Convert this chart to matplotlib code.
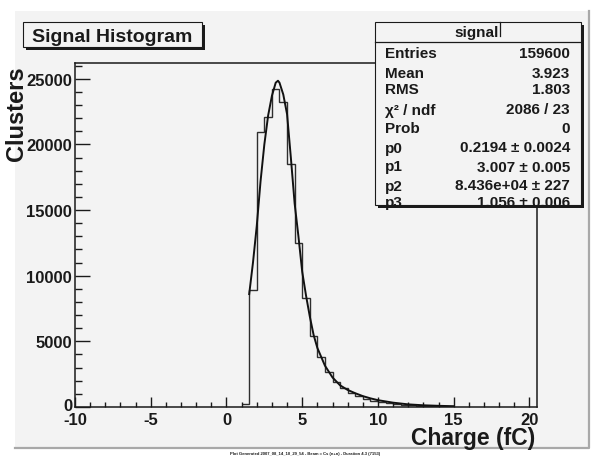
import numpy as np
import matplotlib
matplotlib.use("Agg")
import matplotlib.pyplot as plt
from matplotlib.patches import Rectangle
from matplotlib.lines import Line2D

# ---------------- data ----------------
bin_start = 1.0
bin_width = 0.5
counts = [250, 8900, 20950, 22050, 24200, 23200, 18500, 12500, 8300, 5430,
          3780, 2700, 1900, 1450, 1050, 820, 610, 470, 360, 290,
          220, 170, 140, 110, 90, 70, 60, 45]

fit_x = [1.5, 1.75, 2.0, 2.25, 2.5, 2.75, 3.0, 3.25, 3.4, 3.5, 3.75, 4.0,
         4.25, 4.5, 4.75, 5.0, 5.25, 5.5, 5.75, 6.0, 6.5, 7.0, 7.5, 8.0,
         8.5, 9.0, 9.5, 10.0, 11.0, 12.0, 13.0, 14.0, 15.0]
fit_y = [8600, 11000, 13800, 17200, 20000, 22200, 23700, 24700, 24850, 24700,
         23800, 22300, 19000, 15500, 13000, 10300, 8500, 6900, 5500, 4500,
         3150, 2250, 1650, 1300, 1050, 830, 660, 520, 330, 200, 130, 90, 60]

xticks = [-10, -5, 0, 5, 10, 15, 20]
yticks = [0, 5000, 10000, 15000, 20000, 25000]

stats_title = "signal"
stats_names = ["Entries", "Mean", "RMS", "χ² / ndf", "Prob", "p0", "p1", "p2", "p3"]
stats_values = ["159600", "3.923", "1.803", "2086 / 23", "0",
                "0.2194 ± 0.0024", "3.007 ± 0.005", "8.436e+04 ± 227", "1.056 ± 0.006"]

title = "Signal Histogram"
xlabel = "Charge (fC)"
ylabel = "Clusters"
footer = "Plot Generated 2007_08_14_10_29_54 - Beam = Cs (n+n) - Duration 4.3 (7153)"

# ---------------- figure ----------------
W, H = 595, 460
FONT = "Liberation Sans"
fig = plt.figure(figsize=(W / 100, H / 100), dpi=100, facecolor="white")
BG = "#f3f3f3"
INK = "#1a1a1a"


def fx(px):
    return px / W


def fy(py):
    return 1 - py / H


def prect(x0, y0, x1, y1, **kw):
    r = Rectangle((fx(x0), fy(y1)), fx(x1) - fx(x0), fy(y0) - fy(y1),
                  transform=fig.transFigure, **kw)
    fig.add_artist(r)
    return r


def pline(xs, ys, **kw):
    l = Line2D([fx(v) for v in xs], [fy(v) for v in ys], transform=fig.transFigure, **kw)
    fig.add_artist(l)
    return l


# canvas
prect(15, 12, 590, 450, facecolor=BG, edgecolor="none", zorder=0)
pline([15, 589, 589], [449, 449, 12], color="#a8a8a8", lw=1.6, zorder=0.5)

# axes
L, R, T, B = 75, 537, 64, 408
ax = fig.add_axes([fx(L), fy(B), fx(R) - fx(L), fy(T) - fy(B)])
ax.set_facecolor(BG)
ax.set_xlim(-10, 20.5)
ax.set_ylim(0, 26200)

edges = bin_start + bin_width * np.arange(len(counts) + 1)
ax.stairs(counts, edges, color="#2e2e2e", lw=1.0, baseline=None)
ax.plot(fit_x, fit_y, color="#111111", lw=1.4)

for s in ["top", "right", "bottom", "left"]:
    ax.spines[s].set_color(INK)
    ax.spines[s].set_linewidth(1.1)

ax.set_xticks(xticks)
ax.set_yticks(yticks)
ax.set_xticks(np.arange(-10, 21, 1), minor=True)
ax.set_yticks(np.arange(0, 26001, 1000), minor=True)
ax.tick_params(axis="x", which="major", direction="in", length=7.5, width=1.0, color=INK, pad=3.5)
ax.tick_params(axis="x", which="minor", direction="in", length=3.8, width=1.0, color=INK)
ax.tick_params(axis="y", which="major", direction="in", length=10.5, width=1.0, color=INK, pad=2)
ax.tick_params(axis="y", which="minor", direction="in", length=5.3, width=1.0, color=INK)
ax.set_xticklabels([str(v) for v in xticks], fontfamily=FONT, fontweight="bold", fontsize=12, color=INK)
# y "0" label is placed by hand just above the "-10" label, as in the reference
ax.set_yticklabels([""] + [str(v) for v in yticks[1:]], fontfamily=FONT, fontweight="bold",
                   fontsize=12, color=INK)
ax.annotate(str(yticks[0]), xy=(0, 0), xycoords="axes fraction", xytext=(-1.5, -2.2),
            textcoords="offset points", ha="right", va="baseline", fontfamily=FONT,
            fontweight="bold", fontsize=12, color=INK, annotation_clip=False)

# axis titles
fig.text(fx(535), fy(445), xlabel, ha="right", va="baseline", fontfamily=FONT,
         fontweight="bold", fontsize=16.5, color=INK)
fig.text(fx(17), fy(66), ylabel, ha="center", va="top", rotation=90, fontfamily=FONT,
         fontweight="bold", fontsize=17, color=INK)

# title box
prect(25.5, 25.5, 204.5, 50.5, facecolor=INK, edgecolor="none", zorder=5)
prect(23.3, 23.3, 202, 48, facecolor=BG, edgecolor=INK, lw=0.8, zorder=6)
fig.text(fx(112.5), fy(42), title, ha="center", va="baseline", fontfamily=FONT,
         fontweight="bold", fontsize=14, color=INK, zorder=7)

# stats box
prect(377.5, 25.8, 583.5, 208.5, facecolor=INK, edgecolor="none", zorder=5)
prect(375, 23.3, 581, 206, facecolor=BG, edgecolor=INK, lw=0.8, zorder=6)
pline([375, 581], [42.7, 42.7], color=INK, lw=0.9, zorder=7)
pline([499.5, 499.5], [23.3, 36.5], color=INK, lw=0.9, zorder=7)
fig.text(fx(477), fy(37.5), stats_title, ha="center", va="baseline", fontfamily=FONT,
         fontweight="bold", fontsize=11, color=INK, zorder=7)
baselines = [58, 77.5, 94.5, 114.5, 133.5, 152.5, 171.5, 190.5, 207]
for name, val, b in zip(stats_names, stats_values, baselines):
    fig.text(fx(385), fy(b), name, ha="left", va="baseline", fontfamily=FONT,
             fontweight="bold", fontsize=11, color=INK, zorder=8)
    fig.text(fx(570), fy(b), val, ha="right", va="baseline", fontfamily=FONT,
             fontweight="bold", fontsize=11, color=INK, zorder=8)

# footer
fig.text(fx(305), fy(455.5), footer, ha="center", va="baseline", fontfamily=FONT,
         fontweight="bold", fontsize=3.0, color=INK)

fig.savefig("out.png", dpi=100, facecolor="white")
